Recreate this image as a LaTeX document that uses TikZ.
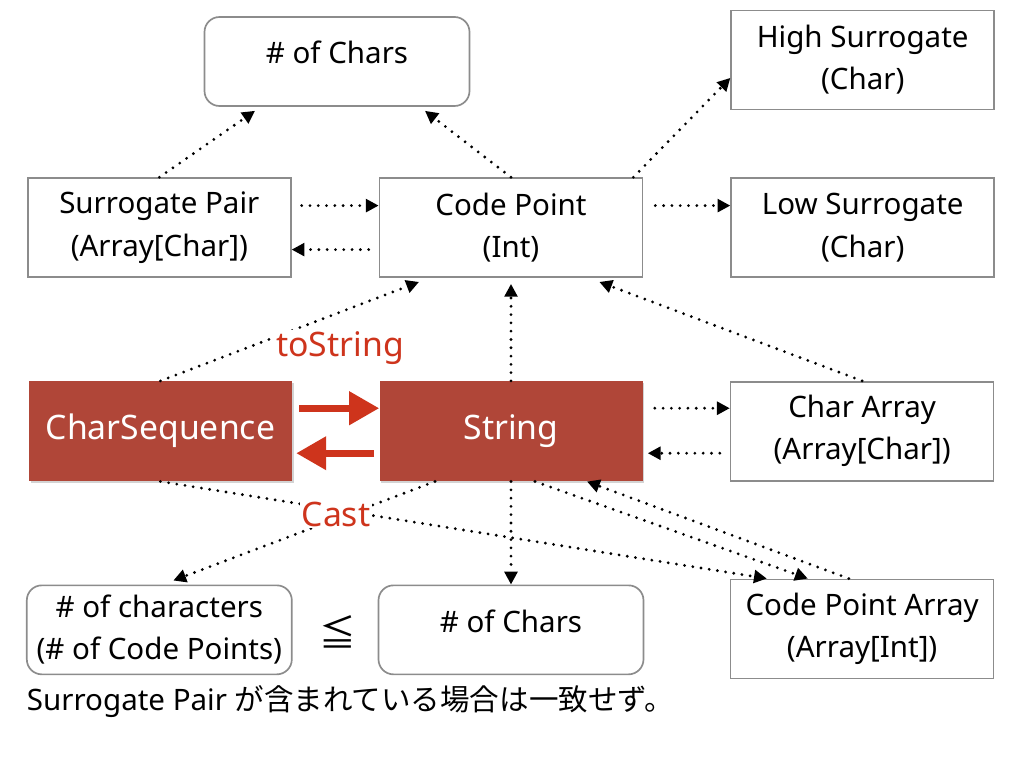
\documentclass[tikz,border=0pt]{standalone}
\usepackage{fontspec}
\setmainfont{Noto Sans}
\newfontfamily\cjk{Noto Sans CJK JP}
\usepackage{tikz}
\usetikzlibrary{arrows.meta,positioning,shadows}
\definecolor{boxgray}{RGB}{140,140,140}
\definecolor{brick}{RGB}{176,70,56}
\definecolor{castred}{RGB}{206,52,28}

\begin{document}
\begin{tikzpicture}
[font=\fontsize{21}{30}\selectfont,
% STYLES
% The datatype style is used for the plain type boxes
datatype/.style={rectangle, draw=boxgray, line width=1.2pt, minimum width=6.575cm, minimum height=2.475cm, align=center, inner sep=2pt},
% The count style is used for the rounded boxes
count/.style={datatype, rounded corners=0.375cm, minimum width=6.625cm, minimum height=2.225cm},
% single line counts sit a bit high in their box
onecount/.style={count, text depth=0.45cm},
% The core style is used for the two red types
core/.style={rectangle, fill=brick, text=white, minimum width=6.575cm, minimum height=2.5cm, font=\fontsize{24}{28}\selectfont, drop shadow={shadow xshift=0.04cm, shadow yshift=-0.05cm, opacity=0.35}},
% red text on the links
convlabel/.style={text=castred, fill=white, inner sep=1pt, font=\fontsize{24}{28}\selectfont},
% dotted links and thick red arrows
link/.style={line width=2.2pt, dash pattern=on 0pt off 5.9pt, line cap=round, -{Triangle[length=0.32cm,width=0.32cm]}},
conv/.style={line width=5pt, draw=castred, -{Triangle[length=0.75cm,width=0.8cm]}}]

\useasboundingbox (0,0) rectangle (25.6,-19.2);

% Draw types
\node [datatype] (codepoint) at (12.775,-5.69) {Code Point\\(Int)};
\node [datatype, left=2.175cm of codepoint] (surpair) {Surrogate Pair\\(Array[Char])};
\node [datatype, right=2.175cm of codepoint] (lowsurr) {Low Surrogate\\(Char)};
\node [datatype, above=1.675cm of lowsurr] (highsurr) {High Surrogate\\(Char)};
\node [onecount] (topchars) at (8.425,-1.5375) {\# of Chars};
\node [core, below=2.575cm of codepoint] (string) {String};
\node [core, left=2.175cm of string] (charseq) {CharSequence};
\node [datatype, right=2.175cm of string] (chararray) {Char Array\\(Array[Char])};
\node [datatype, below=2.425cm of chararray] (cparray) {Code Point Array\\(Array[Int])};
\node [onecount, below=2.575cm of string] (bottomchars) {\# of Chars};
\node [count, left=2.125cm of bottomchars] (nchars) {\# of characters\\(\# of Code Points)};

% comparison and note
\node [font=\cjk\fontsize{26}{28}\selectfont] (leq) at (8.45,-15.8) {≦};
\node [anchor=west] (note) at (0.55,-17.55) {Surrogate Pair {\cjk が含まれている場合は一致せず。}};

% Draw the links between types
\path[link]
(surpair.north) edge ([xshift=-2.05cm,yshift=-0.1cm]topchars.south)
(codepoint.north) edge ([xshift=2.2cm,yshift=-0.1cm]topchars.south)
([xshift=-0.25cm]codepoint.north east) edge ([yshift=-0.45cm]highsurr.west)
([yshift=0.55cm]surpair.east) edge[shorten <=0.25cm] ([yshift=0.55cm]codepoint.west)
([yshift=-0.55cm]codepoint.west) edge[shorten <=0.25cm] ([yshift=-0.55cm]surpair.east)
([yshift=0.55cm]codepoint.east) edge[shorten <=0.3cm] ([yshift=0.55cm]lowsurr.west)
(charseq.north) edge ([xshift=-2.3cm,yshift=-0.1cm]codepoint.south)
(string.north) edge ([yshift=-0.15cm]codepoint.south)
(chararray.north) edge ([xshift=-1.1cm,yshift=-0.1cm]codepoint.south east)
([yshift=0.575cm]string.east) edge[shorten <=0.3cm] ([yshift=0.575cm]chararray.west)
([yshift=-0.55cm]chararray.west) edge[shorten <=0.25cm, shorten >=0.125cm] ([yshift=-0.55cm]string.east)
(charseq.south) edge ([xshift=0.925cm]cparray.north west)
([xshift=-1.9cm]string.south) edge ([xshift=0.35cm,yshift=0.1cm]nchars.north)
([xshift=0.6cm]string.south) edge ([xshift=1.95cm]cparray.north west)
([xshift=2.975cm]cparray.north west) edge ([xshift=1.9cm]string.south)
(string.south) edge (bottomchars.north);

\draw[conv, shorten <=0.175cm] ([yshift=0.575cm]charseq.east) -- ([yshift=0.575cm]string.west);
\draw[conv, shorten <=0.125cm, shorten >=0.1cm] ([yshift=-0.55cm]string.west) -- ([yshift=-0.55cm]charseq.east);

% labels over the links
\node [convlabel] (tostr) at (8.5,-8.7) {toString};
\node [convlabel] (cast) at (8.4,-12.85) {Cast};

\end{tikzpicture}
\end{document}
